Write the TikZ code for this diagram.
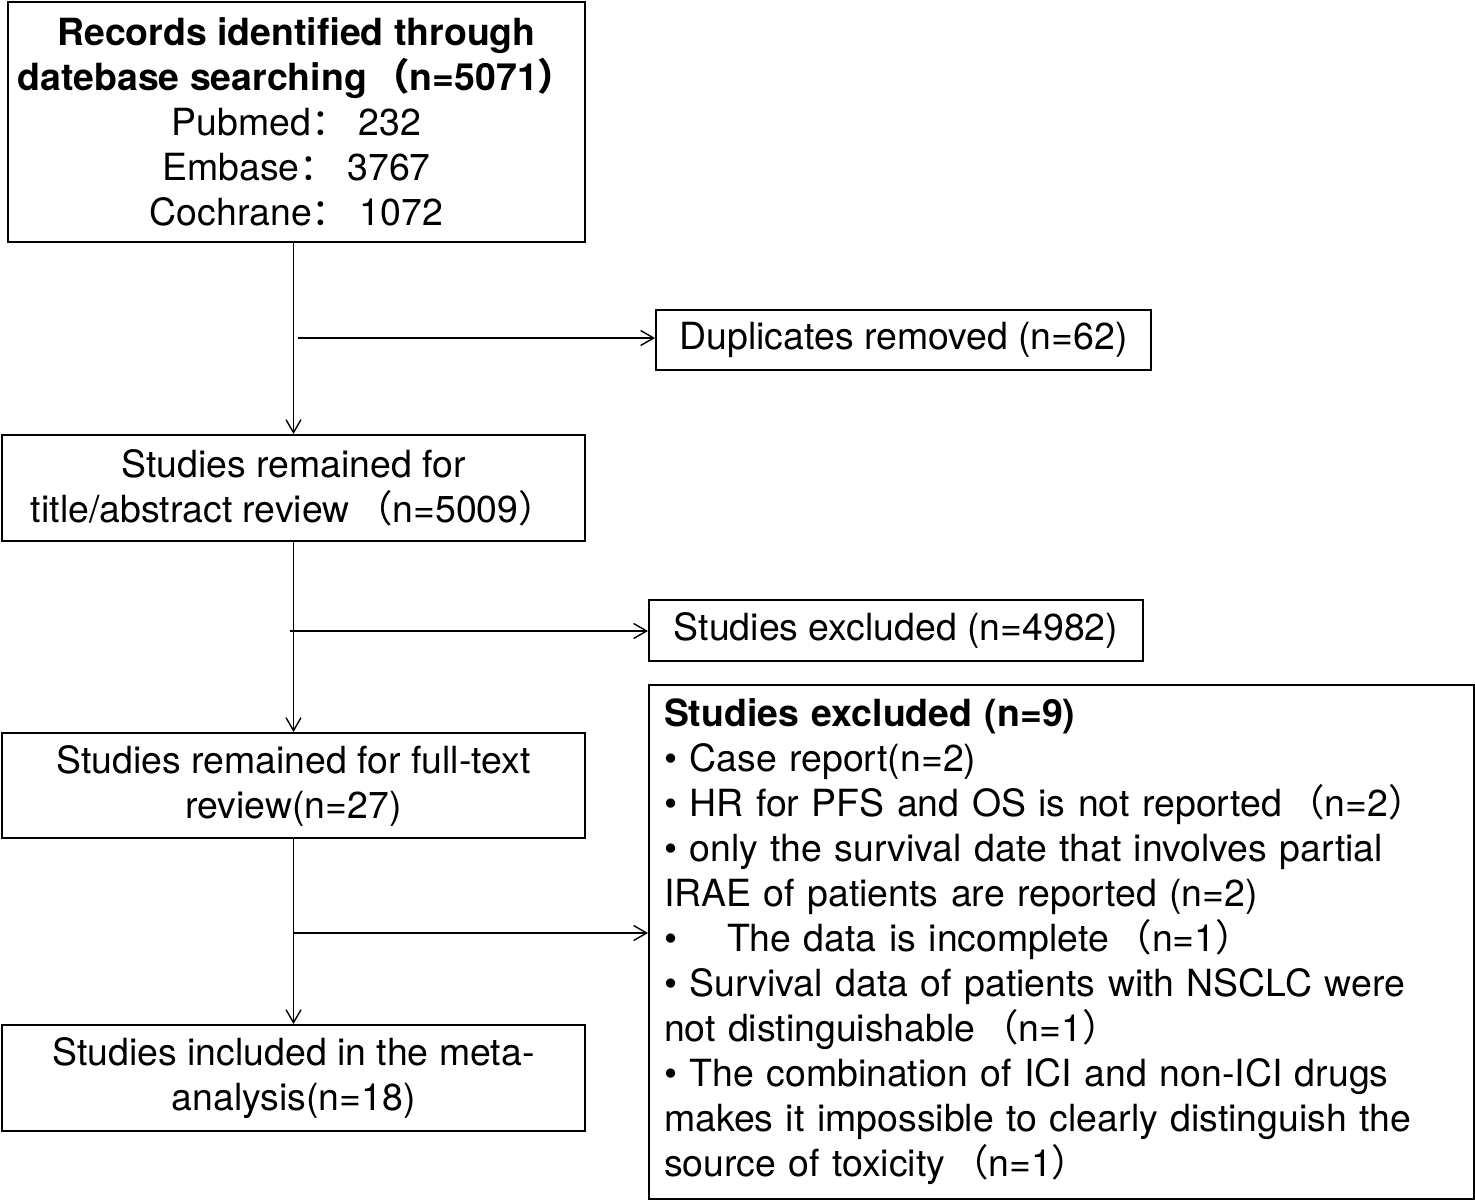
\documentclass[tikz,border=0pt]{standalone}
\usepackage{fontspec}
\setmainfont{TeX Gyre Heros}
\newfontfamily\cjk{Noto Sans CJK SC}
\usetikzlibrary{arrows.meta}
\tikzset{>={Straight Barb[length=2.6mm,width=3mm]}}
\newcommand{\fwl}{\hspace{0.15em}{\cjk （}}
\newcommand{\fwr}{{\cjk ）}}
\newcommand{\fwc}{{\cjk ：}}

\begin{document}
\begin{tikzpicture}[
  box/.style={draw, line width=1.1pt, inner sep=0pt, align=center,
    font=\fontsize{21.3}{25.6}\selectfont},
  link/.style={line width=0.8pt}]
\useasboundingbox (0,0) rectangle (29.5,-24.04);
% left column
\node[box, minimum width=11.54cm, minimum height=4.80cm] (records) at (5.93,-2.44)
  {\textbf{Records identified through}\\
   \textbf{datebase searching\fwl n=5071\fwr}\\
   Pubmed\fwc\ 232\\ Embase\fwc\ 3767\\ Cochrane\fwc\ 1072};
\node[box, minimum width=11.66cm, minimum height=2.12cm] (title) at (5.87,-9.76)
  {Studies remained for\\ title/abstract review\fwl n=5009\fwr};
\node[box, minimum width=11.66cm, minimum height=2.10cm] (full) at (5.87,-15.71)
  {Studies remained for full-text\\ review(n=27)};
\node[box, minimum width=11.66cm, minimum height=2.12cm] (included) at (5.87,-21.56)
  {Studies included in the meta-\\ analysis(n=18)};
% right column
\node[box, minimum width=9.90cm, minimum height=1.20cm] (dup) at (18.07,-6.80)
  {Duplicates removed (n=62)};
\node[box, minimum width=9.88cm, minimum height=1.22cm] (excl) at (17.92,-12.61)
  {Studies excluded (n=4982)};
\node[box, minimum height=10.28cm, text width=15.9cm, inner xsep=0.3cm, align=left]
  (reasons) at (21.23,-18.84)
  {\textbf{Studies excluded (n=9)}\\
   \textbullet\ Case report(n=2)\\
   \textbullet\ HR for PFS and OS is not reported\fwl n=2\fwr\\
   \textbullet\ only the survival date that involves partial\\
   IRAE of patients are reported (n=2)\\
   \textbullet\ \ \ \ The data is incomplete\fwl n=1\fwr\\
   \textbullet\ Survival data of patients with NSCLC were\\
   not distinguishable\fwl n=1\fwr\\
   \textbullet\ The combination of ICI and non-ICI drugs\\
   makes it impossible to clearly distinguish the\\
   source of toxicity\fwl n=1\fwr};
% connectors
\coordinate (b1) at (5.96,-6.76);
\coordinate (b2) at (5.80,-12.62);
\coordinate (b3) at (5.86,-18.66);
\draw[link,->] (records.south -| title.north) -- (title.north);
\draw[link,->] (title.south) -- (full.north);
\draw[link,->] (full.south) -- (included.north);
\draw[link,->] (b1) -- (b1 -| dup.west);
\draw[link,->] (b2) -- (b2 -| excl.west);
\draw[link,->] (b3) -- (b3 -| reasons.west);
\end{tikzpicture}
\end{document}
